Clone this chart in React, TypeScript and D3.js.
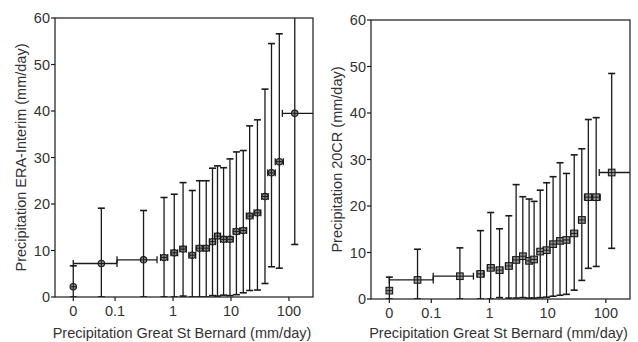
import React from 'react';
import * as d3 from 'd3';

// Great St Bernard precipitation bins (mm/day); 0 = dry-day bin
const gsbX = [0, 0.058, 0.31, 0.70, 1.05, 1.49, 2.15, 2.87, 3.74, 4.80, 5.85, 7.45, 9.6, 12.4, 16.3, 21.0, 28.6, 38.6, 50.0, 68.2, 126];
const gsbXLo = [0, 0, 0.108, 0.61, 0.92, 1.31, 1.88, 2.5, 3.3, 4.25, 5.2, 6.6, 8.4, 10.9, 14.3, 18.4, 25, 34, 43, 58, 77];
const gsbXHi = [0, 0.108, 0.53, 0.81, 1.2, 1.7, 2.46, 3.3, 4.25, 5.4, 6.6, 8.4, 10.9, 14.1, 18.6, 24, 32.7, 43.8, 58, 80, 400];

const eraMean = [2.2, 7.2, 8.0, 8.5, 9.5, 10.3, 9.0, 10.5, 10.5, 11.9, 13.1, 12.4, 12.4, 14.1, 14.3, 17.4, 18.1, 21.6, 26.7, 29.1, 39.5];
const eraLo = [0, 0, 0, 0, 0, 0.2, 0, 0, 0, 0.3, 0.2, 0.4, 0.3, 0.5, 0.9, 1.4, 1.5, 2.9, 6.5, 6.2, 11.3];
const eraHi = [6.7, 19.1, 18.6, 21.4, 22.1, 24.6, 22.9, 25.0, 25.0, 27.7, 28.2, 27.8, 29.7, 31.2, 31.5, 36.8, 38.1, 44.7, 54.5, 56.6, 70];

const cr20Mean = [1.8, 4.1, 4.9, 5.4, 6.7, 6.2, 7.1, 8.4, 9.2, 8.2, 8.5, 10.2, 10.5, 11.8, 12.5, 12.7, 14.1, 17.0, 21.9, 21.9, 27.2];
const cr20Lo = [0, 0, 0, 0, 0, 0.3, 0.2, 0.2, 0.3, 0.2, 0.2, 0.3, 0.4, 0.6, 0.8, 1.0, 1.9, 4.0, 6.6, 7.0, 10.9];
const cr20Hi = [4.7, 10.7, 11.0, 14.7, 18.6, 15.1, 17.9, 24.6, 22.0, 21.5, 21.0, 23.4, 25.0, 26.3, 29.3, 27.0, 31.0, 32.3, 38.6, 39.0, 48.5];

const xTickValues = [0, 0.1, 1, 10, 100];
const xTickLabels = ['0', '0.1', '1', '10', '100'];
const yTickValues = [0, 10, 20, 30, 40, 50, 60];

const ZERO_POS = 0.019;
const FONT = 'Liberation Sans, Arial, sans-serif';
const INK = '#1a1a1a';
const TXT = '#333';

type PanelProps = {
  id: string;
  left: number; right: number; top: number; bottom: number;
  ylabel: string;
  mean: number[]; lo: number[]; hi: number[];
  marker: 'circle' | 'square';
};

function Panel({ id, left, right, top, bottom, ylabel, mean, lo, hi, marker }: PanelProps) {
  const xs = d3.scaleLog().domain([0.0092, 260]).range([left, right]);
  const ys = d3.scaleLinear().domain([0, 60]).range([bottom, top]);
  const px = (v: number) => xs(v === 0 ? ZERO_POS : v);
  const cap = 3.5;
  const tick = 4;
  return (
    <g>
      <defs>
        <clipPath id={id}>
          <rect x={left} y={top} width={right - left} height={bottom - top} />
        </clipPath>
      </defs>
      <g clipPath={`url(#${id})`} stroke={INK} strokeWidth={1.3} fill="none">
        {gsbX.map((xv, i) => {
          const cx = px(xv);
          const cy = ys(mean[i]);
          const yTop = ys(hi[i]);
          const yBot = ys(lo[i]);
          const hasH = gsbXHi[i] > gsbXLo[i];
          const xl = px(gsbXLo[i]);
          const xr = px(gsbXHi[i]);
          return (
            <g key={i}>
              <line x1={cx} x2={cx} y1={yTop} y2={yBot} />
              <line x1={cx - cap} x2={cx + cap} y1={yTop} y2={yTop} strokeWidth={1.6} />
              <line x1={cx - cap} x2={cx + cap} y1={yBot} y2={yBot} strokeWidth={1.6} />
              {hasH && (
                <g>
                  <line x1={xl} x2={xr} y1={cy} y2={cy} />
                  <line x1={xl} x2={xl} y1={cy - cap} y2={cy + cap} />
                  <line x1={xr} x2={xr} y1={cy - cap} y2={cy + cap} />
                </g>
              )}
            </g>
          );
        })}
        {gsbX.map((xv, i) => {
          const cx = px(xv);
          const cy = ys(mean[i]);
          return marker === 'circle' ? (
            <g key={'m' + i}>
              <circle cx={cx} cy={cy} r={3.2} fill="#8a8a8a" stroke={INK} strokeWidth={1.1} />
              <line x1={cx - 3} x2={cx + 3} y1={cy} y2={cy} strokeWidth={1} />
              <line x1={cx} x2={cx} y1={cy - 3} y2={cy + 3} strokeWidth={1} />
            </g>
          ) : (
            <g key={'m' + i}>
              <rect x={cx - 3.3} y={cy - 3.3} width={6.6} height={6.6} fill="#9a9a9a" stroke={INK} strokeWidth={1.1} />
              <line x1={cx - 3} x2={cx + 3} y1={cy} y2={cy} strokeWidth={1} />
              <line x1={cx} x2={cx} y1={cy - 3} y2={cy + 3} strokeWidth={1} />
            </g>
          );
        })}
      </g>
      <rect x={left} y={top} width={right - left} height={bottom - top} fill="none" stroke={INK} strokeWidth={1.2} />
      {yTickValues.map((t) => (
        <g key={'y' + t}>
          <line x1={left - tick} x2={left} y1={ys(t)} y2={ys(t)} stroke={INK} strokeWidth={1.2} />
          <text x={left - 5} y={ys(t)} dy="0.35em" textAnchor="end" fontSize={14.5} fontFamily={FONT} fill={TXT}>{t}</text>
        </g>
      ))}
      {xTickValues.map((t, i) => (
        <g key={'x' + i}>
          <line x1={px(t)} x2={px(t)} y1={bottom} y2={bottom + tick} stroke={INK} strokeWidth={1.2} />
          <text x={px(t)} y={bottom + 18.5} textAnchor="middle" fontSize={14.5} fontFamily={FONT} fill={TXT}>{xTickLabels[i]}</text>
        </g>
      ))}
      <text x={(left + right) / 2 - 2} y={338} textAnchor="middle" fontSize={14.5} fontFamily={FONT} fill={TXT}>
        Precipitation Great St Bernard (mm/day)
      </text>
      <text transform={`translate(${left - 29.5},${(top + bottom) / 2}) rotate(-90)`} textAnchor="middle" fontSize={14.5} fontFamily={FONT} fill={TXT}>
        {ylabel}
      </text>
    </g>
  );
}

export default function App() {
  return (
    <svg width={638} height={342} style={{ position: 'absolute', left: 0, top: 0, background: '#fff' }}>
      <rect width={638} height={342} fill="#fff" />
      <Panel id="clipA" left={55} right={313} top={18} bottom={297} ylabel="Precipitation ERA-Interim (mm/day)" mean={eraMean} lo={eraLo} hi={eraHi} marker="circle" />
      <Panel id="clipB" left={371} right={630} top={20} bottom={299} ylabel="Precipitation 20CR (mm/day)" mean={cr20Mean} lo={cr20Lo} hi={cr20Hi} marker="square" />
    </svg>
  );
}
